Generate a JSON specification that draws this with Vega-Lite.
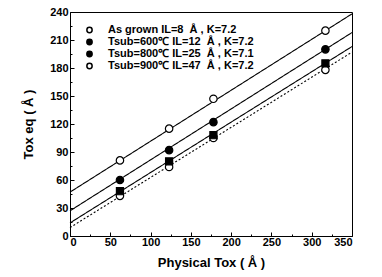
{
  "$schema": "https://vega.github.io/schema/vega-lite/v6.json",
  "width": 282,
  "height": 224,
  "autosize": {"type": "none"},
  "padding": {"left": 70, "top": 12, "right": 30, "bottom": 41},
  "background": "white",
  "config": {
    "view": {"stroke": "black", "strokeWidth": 1},
    "font": "Liberation Sans",
    "axis": {
      "grid": false,
      "domainColor": "black",
      "tickColor": "black",
      "tickSize": -4,
      "labelColor": "black",
      "titleColor": "black",
      "labelFont": "Liberation Sans",
      "labelFontSize": 11,
      "labelFontWeight": "bold",
      "titleFont": "Liberation Sans",
      "titleFontSize": 13,
      "titleFontWeight": "bold"
    },
    "legend": {
      "labelFont": "Liberation Sans",
      "labelFontSize": 11,
      "labelFontWeight": "bold",
      "labelColor": "black",
      "rowPadding": 0,
      "clipHeight": 12,
      "labelOffset": 13,
      "symbolSize": 28,
      "symbolType": "circle",
      "orient": "none",
      "legendX": 14,
      "legendY": 12,
      "title": null
    }
  },
  "resolve": {"axis": {"x": "independent", "y": "independent"}},
  "datasets": {
    "pts": [
      {"s": "As grown IL=8  Å , K=7.2", "x": 62, "y": 43},
      {"s": "As grown IL=8  Å , K=7.2", "x": 123, "y": 74},
      {"s": "As grown IL=8  Å , K=7.2", "x": 178, "y": 105},
      {"s": "As grown IL=8  Å , K=7.2", "x": 317, "y": 178},
      {"s": "Tsub=600℃ IL=12  Å , K=7.2", "x": 62, "y": 48},
      {"s": "Tsub=600℃ IL=12  Å , K=7.2", "x": 123, "y": 80},
      {"s": "Tsub=600℃ IL=12  Å , K=7.2", "x": 178, "y": 108},
      {"s": "Tsub=600℃ IL=12  Å , K=7.2", "x": 317, "y": 185},
      {"s": "Tsub=800℃ IL=25  Å , K=7.1", "x": 62, "y": 60},
      {"s": "Tsub=800℃ IL=25  Å , K=7.1", "x": 123, "y": 92},
      {"s": "Tsub=800℃ IL=25  Å , K=7.1", "x": 178, "y": 122},
      {"s": "Tsub=800℃ IL=25  Å , K=7.1", "x": 317, "y": 200},
      {"s": "Tsub=900℃ IL=47  Å , K=7.2", "x": 62, "y": 81},
      {"s": "Tsub=900℃ IL=47  Å , K=7.2", "x": 123, "y": 115},
      {"s": "Tsub=900℃ IL=47  Å , K=7.2", "x": 178, "y": 147},
      {"s": "Tsub=900℃ IL=47  Å , K=7.2", "x": 317, "y": 220}
    ],
    "fits": [
      {"g": "IL8", "x": 0, "y": 9},
      {"g": "IL8", "x": 350, "y": 197},
      {"g": "IL12", "x": 0, "y": 14},
      {"g": "IL12", "x": 350, "y": 203},
      {"g": "IL25", "x": 0, "y": 27},
      {"g": "IL25", "x": 350, "y": 218},
      {"g": "IL47", "x": 0, "y": 47},
      {"g": "IL47", "x": 350, "y": 238}
    ]
  },
  "layer": [
    {
      "data": {"name": "fits"},
      "mark": {"type": "line", "color": "black", "strokeWidth": 1.1},
      "encoding": {
        "x": {
          "field": "x", "type": "quantitative",
          "scale": {"domain": [0, 350], "nice": false},
          "axis": {"values": [0, 50, 100, 150, 200, 250, 300, 350], "title": "Physical Tox ( Å )", "labelPadding": 4, "titlePadding": 9}
        },
        "y": {
          "field": "y", "type": "quantitative",
          "scale": {"domain": [0, 240], "nice": false},
          "axis": {"values": [0, 30, 60, 90, 120, 150, 180, 210, 240], "title": "Tox eq ( Å )", "labelPadding": 6, "titlePadding": 14}
        },
        "detail": {"field": "g"},
        "strokeDash": {
          "field": "g", "type": "nominal", "legend": null,
          "scale": {
            "domain": ["IL8", "IL12", "IL25", "IL47"],
            "range": [[2, 2], [1, 0], [1, 0], [1, 0]]
          }
        }
      }
    },
    {
      "data": {"name": "fits"},
      "mark": {"type": "line", "opacity": 0},
      "encoding": {
        "x": {
          "field": "x", "type": "quantitative",
          "axis": {"orient": "bottom", "values": [25, 75, 125, 175, 225, 275, 325], "labels": false, "domain": false, "title": null, "tickSize": -2}
        },
        "y": {
          "field": "y", "type": "quantitative",
          "axis": {"orient": "left", "values": [15, 45, 75, 105, 135, 165, 195, 225], "labels": false, "domain": false, "title": null, "tickSize": -2}
        },
        "detail": {"field": "g"}
      }
    },
    {
      "data": {"name": "pts"},
      "transform": [{"filter": "datum.s != 'Tsub=600℃ IL=12  Å , K=7.2'"}],
      "mark": {"type": "point", "shape": "circle", "size": 55, "stroke": "black", "strokeWidth": 1.2, "opacity": 1, "filled": false},
      "encoding": {
        "x": {"field": "x", "type": "quantitative", "axis": null},
        "y": {"field": "y", "type": "quantitative", "axis": null},
        "fill": {
          "field": "s", "type": "nominal",
          "scale": {
            "domain": ["As grown IL=8  Å , K=7.2", "Tsub=600℃ IL=12  Å , K=7.2", "Tsub=800℃ IL=25  Å , K=7.1", "Tsub=900℃ IL=47  Å , K=7.2"],
            "range": ["white", "black", "black", "white"]
          },
          "legend": {
            "title": null, "orient": "none", "legendX": 14, "legendY": 12,
            "symbolType": "circle", "symbolSize": 28,
            "labelExpr": "replace(datum.label, '  ', ' \u00a0')",
            "encode": {"symbols": {"update": {"stroke": {"value": "black"}, "strokeWidth": {"value": 1.1}}}}
          }
        }
      }
    },
    {
      "data": {"name": "pts"},
      "transform": [{"filter": "datum.s == 'Tsub=600℃ IL=12  Å , K=7.2'"}],
      "mark": {"type": "point", "shape": "square", "size": 50, "stroke": "black", "fill": "black", "strokeWidth": 1.2, "opacity": 1, "filled": true},
      "encoding": {
        "x": {"field": "x", "type": "quantitative", "axis": null},
        "y": {"field": "y", "type": "quantitative", "axis": null}
      }
    }
  ]
}
